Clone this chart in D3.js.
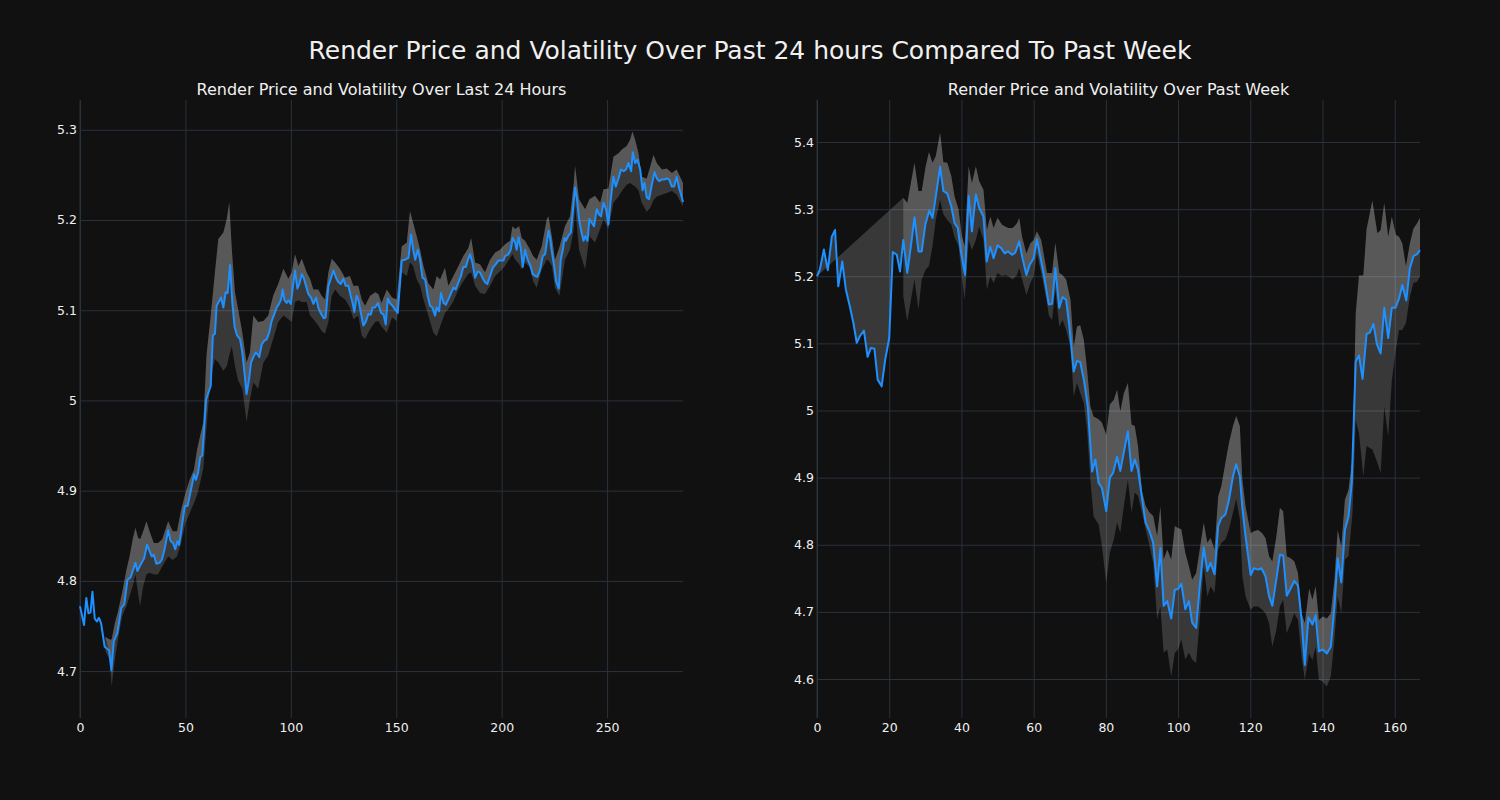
<!DOCTYPE html>
<html><head><meta charset="utf-8">
<script src="https://cdn.jsdelivr.net/npm/d3@7"></script>
<style>html,body{margin:0;padding:0;background:#111111;}svg{display:block;font-family:"DejaVu Sans",sans-serif;}</style>
</head><body><svg id="chart" width="1500" height="800"></svg>
<script>
const mainTitle = "Render Price and Volatility Over Past 24 hours Compared To Past Week";
const leftTitle = "Render Price and Volatility Over Last 24 Hours";
const rightTitle = "Render Price and Volatility Over Past Week";

const leftXTicks = [0,50,100,150,200,250];
const leftYTicks = [4.7,4.8,4.9,5.0,5.1,5.2,5.3];
const leftYLabels = ["4.7","4.8","4.9","5","5.1","5.2","5.3"];
const rightXTicks = [0,20,40,60,80,100,120,140,160];
const rightYTicks = [4.6,4.7,4.8,4.9,5.0,5.1,5.2,5.3,5.4];
const rightYLabels = ["4.6","4.7","4.8","4.9","5","5.1","5.2","5.3","5.4"];

// Left: last 24 hours (index, price)
const lpX = [0,1.9,3,4,5,5.9,7,8,9,10,11.7,13.8,14.9,16,17.7,19.6,21,22.5,24,25,26.3,27.2,28.3,30.4,31.8,33,34,35,36.2,37.8,38.9,40.2,41.8,43,44.1,45.2,46.2,47,48.1,49.7,51,52,53,54.1,55,56,57,58,59.8,62,63,64,64.8,66.9,68,69.1,70,71.2,72.2,73.3,74.5,75.9,77,78,79,80.2,81.1,82.2,83.3,84.3,85,86.2,87.3,88.6,89.7,90.9,92.2,93.3,94.4,95.4,96.1,97,98,98.8,100,101,102,103.1,104,105.2,106.1,107.2,108.3,109.6,110.7,112,113,114.3,115.6,116.5,117.8,119.1,120.2,121.4,122.6,123.7,124.9,126,127.3,128.4,129.4,130.1,131.2,132,133.3,134.4,135.5,136.8,137.9,138.8,140,141.3,142.8,144,145,146,147,148.2,149.4,150.7,152.6,154.2,155.8,157,158.1,159,160.2,161.3,162.4,163.7,164.9,166,167.1,168.4,169.2,170.3,171.2,172.4,173.5,174.7,176,177.1,178.2,179.5,180.7,181.8,183,184,185,186.1,187.4,188.6,189.7,190.9,192.1,193.2,194.5,195.8,197.2,198.4,199.7,200.8,201.6,203.2,204.3,205.2,206.4,207.1,208,209.1,210,211.1,212.2,213.5,214.7,215.8,216.9,218.2,219.5,220.6,222.2,223,223.7,224.9,225.8,227.1,228,229,229.8,230.5,231.7,232.8,233.7,234.8,235.6,236.7,237.7,238.8,239.7,240.7,241.6,242.7,243.8,245.1,246.2,247.1,248.3,249.5,250.6,251.6,253,254.1,255.4,256.6,257.9,259,260.1,261.4,262.2,263.3,264.4,265.7,266.8,267.7,268.8,269.9,271.2,272.5,273.6,274.7,275.9,277.2,278.3,279.4,280.7,281.8,283,284.2,285.1,286];
const lpY = [4.772,4.751,4.781,4.764,4.765,4.788,4.758,4.755,4.759,4.753,4.727,4.723,4.701,4.733,4.742,4.770,4.774,4.801,4.804,4.811,4.820,4.811,4.816,4.825,4.840,4.833,4.827,4.829,4.819,4.820,4.824,4.836,4.856,4.844,4.842,4.835,4.844,4.840,4.857,4.883,4.883,4.894,4.905,4.918,4.912,4.920,4.937,4.939,5.001,5.016,5.072,5.074,5.105,5.114,5.103,5.120,5.119,5.150,5.110,5.082,5.072,5.068,5.053,5.031,5.007,5.024,5.042,5.048,5.053,5.051,5.048,5.062,5.066,5.068,5.075,5.088,5.096,5.103,5.107,5.112,5.123,5.111,5.108,5.111,5.107,5.127,5.144,5.124,5.129,5.140,5.136,5.127,5.118,5.114,5.107,5.114,5.103,5.096,5.091,5.092,5.127,5.136,5.144,5.136,5.131,5.129,5.135,5.127,5.127,5.116,5.107,5.098,5.116,5.112,5.096,5.083,5.087,5.096,5.095,5.103,5.103,5.108,5.097,5.095,5.084,5.113,5.108,5.105,5.101,5.097,5.155,5.156,5.158,5.184,5.166,5.156,5.167,5.156,5.136,5.134,5.116,5.105,5.103,5.094,5.103,5.099,5.119,5.108,5.106,5.112,5.119,5.125,5.123,5.131,5.138,5.148,5.148,5.156,5.162,5.153,5.136,5.143,5.142,5.136,5.131,5.129,5.138,5.147,5.151,5.155,5.155,5.155,5.160,5.162,5.167,5.180,5.175,5.167,5.181,5.168,5.148,5.167,5.157,5.150,5.140,5.138,5.137,5.145,5.160,5.162,5.188,5.179,5.166,5.149,5.132,5.124,5.156,5.167,5.180,5.177,5.183,5.186,5.208,5.236,5.225,5.201,5.188,5.177,5.182,5.177,5.201,5.197,5.193,5.212,5.206,5.204,5.219,5.212,5.195,5.220,5.248,5.237,5.246,5.256,5.254,5.256,5.263,5.254,5.275,5.263,5.267,5.256,5.233,5.241,5.225,5.223,5.239,5.253,5.246,5.243,5.245,5.245,5.246,5.245,5.237,5.237,5.248,5.235,5.228,5.220];
// Left volatility band
const lbX = [12,14,15,16.5,18,20,22,23.5,25,26.3,27.5,28.5,30,31.5,33,35,37,39,41.8,44,46,48,50,52,54,55.5,57,58.5,60,62,64,65.6,68,69.6,70.8,72,73.5,75,77,79,80.6,82.2,84.5,87,89.3,91.6,94,96.5,98.8,100.4,102,103.6,105.2,107.5,109.1,110.7,113,114.6,116.2,117.8,119.4,121,123.3,125.7,128,129.7,132,133.6,135.2,137.6,140,141.5,143,145.5,148,150.2,152.6,155,156.5,158,159.7,161.3,162.9,165.2,167.6,169.2,170.8,173.1,174.7,177.1,179.5,181.8,184.2,185.5,187.4,189.7,192.1,194.5,196.9,199.2,201.6,204,205.1,206.4,208.3,209.5,211.1,213.5,214.9,216.6,219,221.4,222.2,223.8,225.3,227.4,230,232.4,234.2,234.8,236.7,239.6,241.6,244.3,246.7,248.3,250.6,253,255.4,257,259.3,260.9,262,263.3,264.9,266.4,268.8,270.4,272,273.6,276,278.3,280.7,283,286];
const lbHi = [4.738,4.735,4.735,4.753,4.766,4.787,4.812,4.827,4.846,4.859,4.848,4.846,4.855,4.866,4.855,4.842,4.842,4.846,4.866,4.855,4.855,4.879,4.897,4.912,4.923,4.945,4.961,4.976,5.05,5.094,5.142,5.179,5.186,5.201,5.220,5.168,5.12,5.101,5.075,5.042,5.053,5.094,5.087,5.088,5.094,5.116,5.129,5.146,5.135,5.142,5.162,5.149,5.157,5.142,5.135,5.123,5.123,5.116,5.112,5.142,5.157,5.153,5.146,5.136,5.138,5.127,5.127,5.112,5.105,5.116,5.12,5.118,5.108,5.123,5.114,5.112,5.171,5.175,5.210,5.197,5.182,5.167,5.149,5.130,5.123,5.138,5.134,5.147,5.127,5.138,5.149,5.160,5.169,5.180,5.153,5.151,5.142,5.156,5.164,5.167,5.173,5.177,5.193,5.190,5.193,5.180,5.177,5.167,5.160,5.156,5.171,5.201,5.204,5.182,5.156,5.170,5.193,5.204,5.241,5.260,5.223,5.212,5.223,5.227,5.219,5.234,5.235,5.270,5.274,5.278,5.282,5.289,5.298,5.289,5.274,5.248,5.246,5.259,5.272,5.263,5.256,5.257,5.252,5.256,5.241];
const lbLo = [4.722,4.713,4.683,4.712,4.735,4.761,4.772,4.783,4.794,4.807,4.787,4.772,4.794,4.807,4.809,4.807,4.807,4.816,4.827,4.823,4.827,4.842,4.864,4.875,4.886,4.895,4.909,4.925,4.97,5.027,5.046,5.042,5.033,5.038,5.05,5.06,5.038,5.022,5.013,4.976,5.001,5.020,5.013,5.042,5.050,5.068,5.087,5.094,5.090,5.087,5.109,5.111,5.109,5.109,5.094,5.090,5.083,5.077,5.074,5.087,5.116,5.123,5.116,5.112,5.103,5.090,5.094,5.072,5.068,5.079,5.087,5.088,5.082,5.075,5.092,5.088,5.142,5.138,5.153,5.149,5.134,5.127,5.112,5.094,5.075,5.071,5.082,5.097,5.101,5.110,5.123,5.132,5.140,5.142,5.127,5.119,5.118,5.127,5.138,5.143,5.149,5.158,5.162,5.156,5.151,5.145,5.153,5.147,5.132,5.125,5.145,5.156,5.155,5.149,5.125,5.116,5.156,5.167,5.190,5.216,5.167,5.145,5.182,5.175,5.190,5.201,5.19,5.219,5.226,5.232,5.239,5.241,5.239,5.237,5.233,5.219,5.209,5.213,5.222,5.226,5.228,5.230,5.232,5.228,5.215];

// Right: past week (index, price)
const rpX = [0,0.8,1.9,3,4.1,5,5.9,7,8,9.1,10.1,11,11.9,13,14,14.9,15.9,16.8,17.9,18.9,20,21,22.1,23,23.9,25,26,27,28.1,29,30,31.1,32,32.9,34.1,35,36.1,37.2,38.1,39,39.9,41,42,42.9,44,44.9,46.1,47,48,48.9,50,51,52,52.9,54,54.9,56,56.9,58,58.9,60,60.9,62,63,64.2,65.1,66,67.1,68,69,69.9,71.1,72,72.9,73.9,75,76.2,77.1,78,78.9,80.1,81.1,82,83.1,84,85,86.1,87.1,88,88.9,90,91,92.1,93.1,94.2,95.1,96,97,98.1,99.1,100,100.9,102,103,103.9,105,106,107.1,108.1,109,110.1,111.1,112,113.1,114.1,115.2,116.1,117.1,117.8,118.7,120.1,121,122.2,123.1,124.2,125.2,126.1,127.2,128.2,129.1,130.1,131.2,132.2,133.2,134.2,135.1,136.1,137.2,138.1,139,140.1,141.2,142.3,143.3,144.2,145.2,146.2,147.2,148.1,149.2,150.1,151.1,152.2,153.1,154.1,155.1,156.1,157.1,158.2,159.2,160.2,161.2,162.1,163.2,164.2,165.2,166.2,167];
const rpY = [5.200,5.210,5.240,5.209,5.259,5.269,5.185,5.222,5.180,5.155,5.130,5.101,5.111,5.119,5.080,5.093,5.092,5.046,5.036,5.076,5.108,5.236,5.232,5.207,5.254,5.205,5.245,5.288,5.237,5.237,5.277,5.298,5.287,5.319,5.363,5.327,5.323,5.304,5.279,5.272,5.235,5.202,5.320,5.267,5.322,5.302,5.289,5.222,5.244,5.227,5.246,5.242,5.234,5.237,5.232,5.235,5.252,5.227,5.202,5.217,5.227,5.255,5.225,5.197,5.158,5.159,5.212,5.153,5.169,5.165,5.125,5.058,5.074,5.072,5.046,5.006,4.909,4.927,4.892,4.885,4.850,4.900,4.907,4.931,4.910,4.939,4.969,4.910,4.927,4.912,4.870,4.833,4.820,4.803,4.738,4.795,4.709,4.716,4.690,4.733,4.734,4.742,4.704,4.716,4.684,4.676,4.738,4.796,4.761,4.773,4.756,4.828,4.840,4.845,4.867,4.902,4.920,4.902,4.855,4.812,4.755,4.765,4.763,4.765,4.753,4.723,4.709,4.748,4.785,4.784,4.724,4.735,4.746,4.739,4.688,4.621,4.692,4.681,4.695,4.641,4.644,4.638,4.648,4.708,4.780,4.744,4.822,4.842,4.892,5.073,5.082,5.047,5.114,5.116,5.129,5.098,5.085,5.153,5.108,5.153,5.153,5.167,5.187,5.164,5.212,5.230,5.233,5.239];
// Right volatility band
const rbX = [23.9,25,27,28.1,29,30.1,31,32,32.9,34.1,35,36.1,37.2,38.1,39.2,40.1,40.9,42,42.9,44,44.9,46.1,47.05,48,48.9,50,51.2,52.1,53,54.2,55.4,56,56.8,58,59.1,60,60.9,62.1,63.7,64.2,65.1,66,67.1,68,69,70.2,71.1,72,72.9,73.9,74.8,75.7,76.6,78,78.9,80.1,81.1,82.2,83.1,84,85,86.1,87.1,88,88.9,90,91,92.1,93.1,94.2,95.1,96,97,98.1,99.1,100,100.9,102,103,103.9,105,106,107.1,108.1,109,110.1,111.1,112,113.1,114.1,115.2,116.1,117.1,117.8,118.7,120.1,121,122.2,123.3,124.2,125.2,126.1,127.2,128.2,129.1,130.1,131.2,132.2,133.2,134.2,135.1,136.3,137.2,138.1,139,140.1,141.2,142.3,143.3,144.2,145.2,146.2,147.2,148.3,149.2,150.1,151.3,152.2,153.8,155.2,156.1,157.1,158.2,159.2,160.3,161.2,162.1,163.1,164.2,165.2,166.2,167];
const rbHi = [5.317,5.309,5.369,5.327,5.327,5.364,5.385,5.369,5.379,5.414,5.370,5.369,5.349,5.319,5.30,5.26,5.245,5.364,5.339,5.364,5.342,5.329,5.269,5.289,5.272,5.287,5.277,5.274,5.272,5.272,5.279,5.287,5.259,5.234,5.249,5.254,5.267,5.254,5.205,5.205,5.205,5.250,5.205,5.202,5.195,5.165,5.095,5.125,5.127,5.105,5.061,5.006,4.991,4.987,4.982,4.964,5.009,5.016,5.031,4.999,5.026,5.041,4.979,4.977,4.947,4.880,4.858,4.848,4.843,4.813,4.857,4.778,4.793,4.778,4.828,4.825,4.823,4.788,4.768,4.748,4.758,4.793,4.833,4.803,4.810,4.793,4.872,4.888,4.922,4.952,4.977,4.992,4.977,4.897,4.857,4.817,4.820,4.822,4.817,4.810,4.783,4.775,4.812,4.855,4.850,4.783,4.780,4.775,4.758,4.698,4.683,4.735,4.718,4.738,4.688,4.693,4.690,4.698,4.748,4.822,4.797,4.867,4.882,4.931,5.145,5.201,5.201,5.27,5.313,5.264,5.269,5.309,5.259,5.289,5.262,5.259,5.249,5.215,5.249,5.271,5.279,5.287];
const rbLo = [5.17,5.133,5.195,5.15,5.195,5.21,5.215,5.245,5.284,5.314,5.292,5.284,5.277,5.258,5.245,5.20,5.165,5.254,5.239,5.254,5.274,5.254,5.180,5.20,5.190,5.205,5.200,5.202,5.200,5.195,5.202,5.212,5.195,5.172,5.190,5.200,5.234,5.205,5.16,5.142,5.135,5.180,5.125,5.135,5.12,5.095,5.021,5.041,5.026,5.011,4.971,4.897,4.842,4.83,4.798,4.743,4.788,4.808,4.833,4.818,4.858,4.897,4.848,4.878,4.873,4.848,4.823,4.798,4.773,4.689,4.708,4.639,4.644,4.604,4.639,4.644,4.659,4.629,4.639,4.629,4.624,4.688,4.768,4.723,4.738,4.728,4.793,4.803,4.808,4.823,4.848,4.868,4.838,4.753,4.723,4.703,4.708,4.708,4.703,4.698,4.683,4.648,4.673,4.708,4.718,4.668,4.683,4.698,4.688,4.633,4.599,4.638,4.628,4.648,4.599,4.596,4.589,4.604,4.659,4.723,4.698,4.778,4.783,4.847,4.986,4.966,4.902,4.947,4.942,4.922,4.907,5.006,4.961,5.045,5.09,5.120,5.120,5.13,5.17,5.190,5.192,5.200];

const BG = "#111111", GRID = "#2a323c", LINE = "#1e90ff";
const svg = d3.select("#chart");
svg.append("rect").attr("width",1500).attr("height",800).attr("fill",BG);
svg.append("text").attr("x",750).attr("y",50).attr("text-anchor","middle")
  .attr("dominant-baseline","central").attr("fill","#f0f0f0").attr("font-size","25px").text(mainTitle);

function panel(o){
  const x = d3.scaleLinear().domain(o.xDomain).range([o.left,o.right]);
  const y = d3.scaleLinear().domain(o.yDomain).range([o.bottom,o.top]);
  const g = svg.append("g");
  const gx = g.append("g").attr("transform",`translate(0,${o.bottom})`)
    .call(d3.axisBottom(x).tickValues(o.xTicks).tickSize(-(o.bottom-o.top)).tickPadding(5).tickFormat(d3.format("d")));
  const gy = g.append("g").attr("transform",`translate(${o.left},0)`)
    .call(d3.axisLeft(y).tickValues(o.yTicks).tickSize(-(o.right-o.left)).tickPadding(3).tickFormat((d,i)=>o.yLabels[i]));
  [gx,gy].forEach(a=>{
    a.select(".domain").remove();
    a.selectAll(".tick line").attr("stroke",GRID).attr("stroke-width",1);
    a.selectAll(".tick text").attr("fill","#f0f0f0").attr("font-size","12.5px").attr("font-family","DejaVu Sans, sans-serif");
  });
  g.append("line").attr("x1",o.left).attr("x2",o.left).attr("y1",o.top).attr("y2",o.bottom).attr("stroke",GRID);

  const band = o.bandX.map((v,i)=>({x:v,hi:o.bandHi[i],lo:o.bandLo[i]}));
  const price = o.priceX.map((v,i)=>({x:v,y:o.priceY[i]}));
  g.append("path").datum(band)
    .attr("d",d3.area().x(d=>x(d.x)).y0(d=>y(d.lo)).y1(d=>y(d.hi)))
    .attr("fill","#ffffff").attr("fill-opacity",0.165);
  const startX = o.triangle ? -Infinity : o.bandX[0];
  const poly = price.filter(d=>d.x>=startX).map(d=>[d.x,d.y])
    .concat(band.slice().reverse().map(d=>[d.x,d.hi]));
  g.append("path").attr("d",d3.line().x(p=>x(p[0])).y(p=>y(p[1]))(poly)+"Z")
    .attr("fill","#ffffff").attr("fill-opacity",0.165);
  g.append("path").datum(price)
    .attr("d",d3.line().x(d=>x(d.x)).y(d=>y(d.y)))
    .attr("fill","none").attr("stroke",LINE).attr("stroke-width",2).attr("stroke-linejoin","round");
  svg.append("text").attr("x",(o.left+o.right)/2).attr("y",89).attr("text-anchor","middle")
    .attr("dominant-baseline","central").attr("fill","#f0f0f0").attr("font-size","16px").text(o.title);
}

panel({left:80,right:683,top:100,bottom:718,xDomain:[0,286],yDomain:[4.648,5.333],
  xTicks:leftXTicks,yTicks:leftYTicks,yLabels:leftYLabels,
  priceX:lpX,priceY:lpY,bandX:lbX,bandHi:lbHi,bandLo:lbLo,triangle:false,title:leftTitle});
panel({left:817,right:1420,top:100,bottom:718,xDomain:[0,167],yDomain:[4.5419,5.4626],
  xTicks:rightXTicks,yTicks:rightYTicks,yLabels:rightYLabels,
  priceX:rpX,priceY:rpY,bandX:rbX,bandHi:rbHi,bandLo:rbLo,triangle:true,title:rightTitle});
</script></body></html>
